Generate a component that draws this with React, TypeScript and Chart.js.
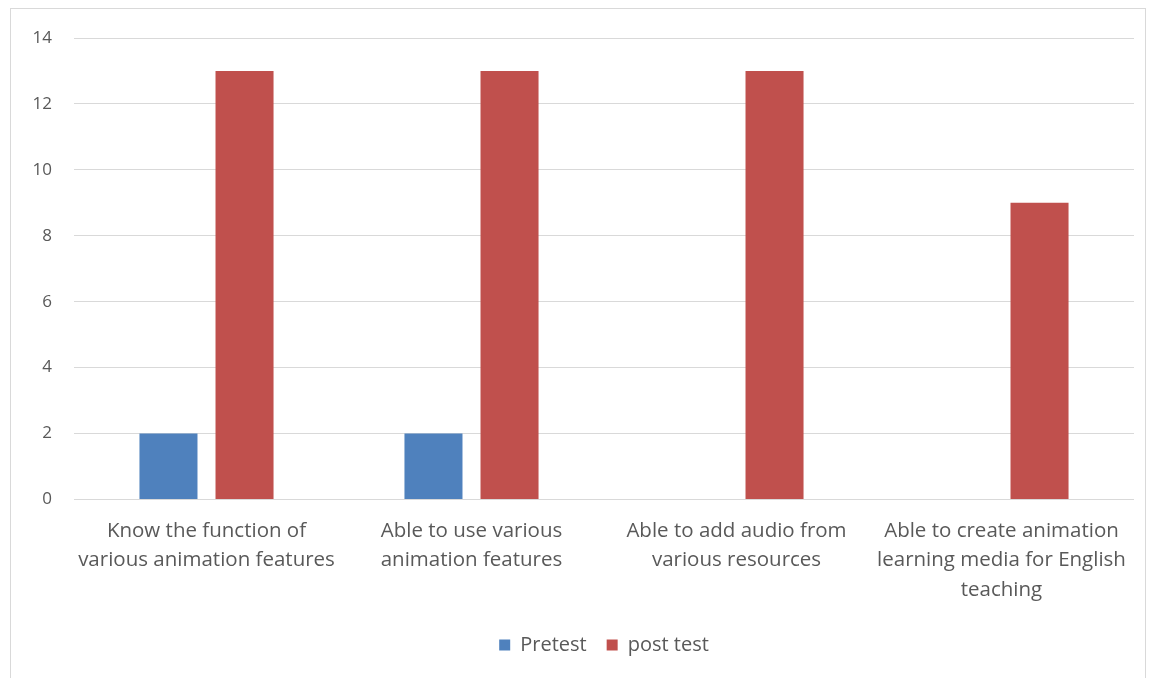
import React, { useEffect, useRef } from "react";
import { Chart, registerables } from "chart.js";

Chart.register(...registerables);

const categories: string[][] = [
  ["Know the function of", "various animation features"],
  ["Able to use various", "animation features"],
  ["Able to add audio from", "various resources"],
  ["Able to create animation", "learning media for English", "teaching"],
];
const pretest = [2, 2, 0, 0];
const postTest = [13, 13, 13, 9];
const yTicks = { min: 0, max: 14, step: 2 };

export default function App() {
  const ref = useRef<HTMLCanvasElement | null>(null);
  useEffect(() => {
    if (!ref.current) return;
    const font = "'Open Sans', Lato, sans-serif";
    const chart = new Chart(ref.current, {
      type: "bar",
      data: {
        labels: categories,
        datasets: [
          { label: "Pretest", data: pretest, backgroundColor: "#4F81BD", categoryPercentage: 0.574, barPercentage: 0.763 },
          { label: "post test", data: postTest, backgroundColor: "#C0504D", categoryPercentage: 0.574, barPercentage: 0.763 },
        ],
      },
      options: {
        animation: false,
        responsive: true,
        maintainAspectRatio: false,
        layout: { padding: { left: 0, right: 11, top: 20, bottom: 14 } },
        plugins: {
          tooltip: { enabled: false },
          legend: {
            position: "bottom",
            fullSize: false,
            labels: { color: "#595959", font: { family: font, size: 20 }, boxWidth: 11, boxHeight: 11, padding: 20 },
          },
        },
        scales: {
          x: {
            grid: { display: false, drawTicks: false },
            border: { display: false },
            ticks: { color: "#595959", font: { family: font, size: 20.5, lineHeight: 1.45 }, padding: 16.5, maxRotation: 0, autoSkip: false },
            afterFit: (s: any) => { s.height = 115.5; },
          },
          y: {
            min: yTicks.min,
            max: yTicks.max,
            grid: { color: "#d9d9d9", lineWidth: 1, drawTicks: false },
            border: { display: false },
            ticks: { stepSize: yTicks.step, color: "#595959", font: { family: font, size: 17 }, padding: 22 },
            afterFit: (s: any) => {
              s.width = 63;
              s.paddingTop = 29;
              s.paddingBottom = 10;
            },
          },
        },
      },
    });
    return () => chart.destroy();
  }, []);
  return (
    <div style={{ width: 1136, height: 672, marginLeft: 2, border: "1px solid #d9d9d9", boxSizing: "border-box", position: "relative" }}>
      <canvas ref={ref} />
    </div>
  );
}
